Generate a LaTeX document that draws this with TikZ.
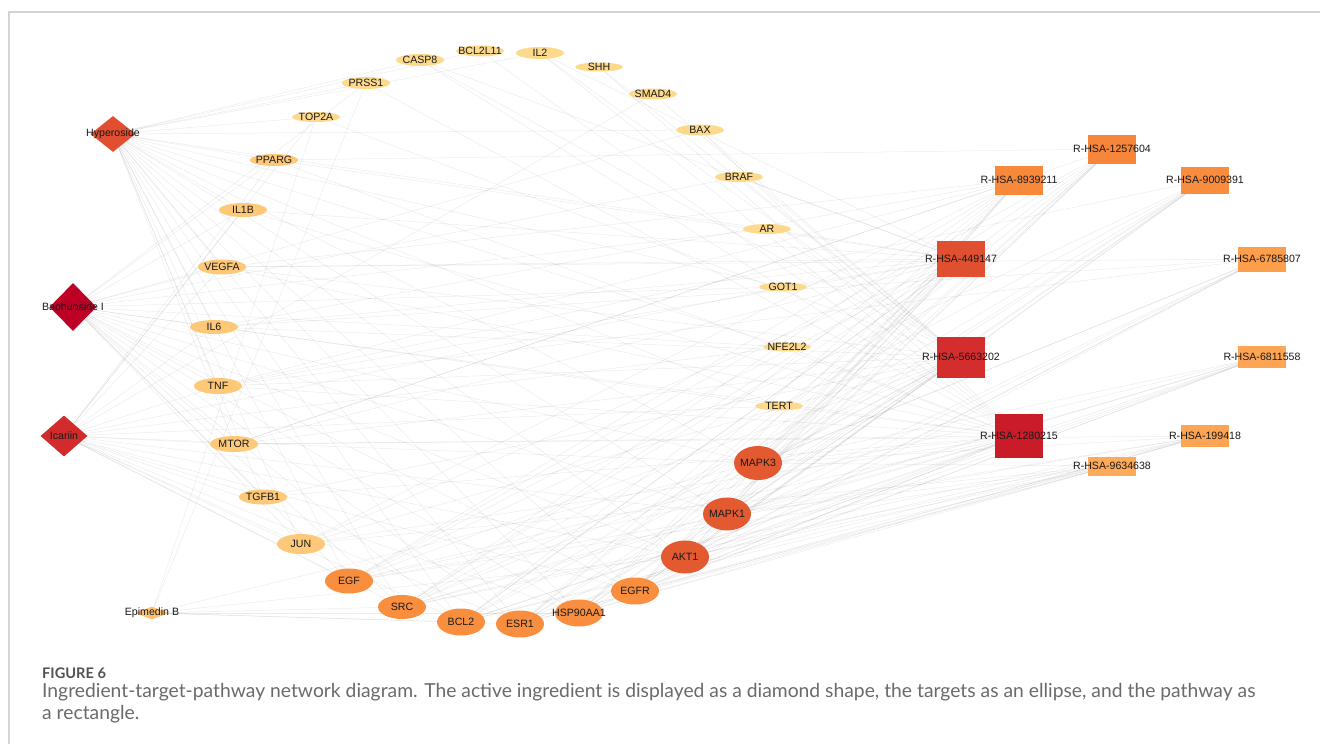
\documentclass[tikz,border=0pt]{standalone}
\usepackage{fontspec}
\setmainfont{Liberation Sans}
\newfontfamily\capfont{Lato}
\usepackage{tikz}
\usetikzlibrary{ shapes.geometric, % For diamond and ellipse nodes
                 backgrounds,      % For drawing edges behind nodes
               }
% node colours
\definecolor{cHyp}{HTML}{E14E30}
\definecolor{cBao}{HTML}{BE0027}
\definecolor{cIca}{HTML}{D12B2B}
\definecolor{cEpi}{HTML}{FDC273}
\definecolor{cPale}{HTML}{FDD98C}
\definecolor{cLight}{HTML}{FDC878}
\definecolor{cOrange}{HTML}{F98F3E}
\definecolor{cDeep}{HTML}{E35A31}
\definecolor{framegray}{HTML}{D4D4D4}
\definecolor{capgray}{HTML}{6A6A6A}

\tikzstyle{edge} = [draw=black, draw opacity=0.075, line width=0.5pt]
\tikzstyle{ingredient} = [diamond, draw=none, inner sep=0pt]
\tikzstyle{target} = [ellipse, draw=none, inner sep=0pt, minimum width=48pt]
\tikzstyle{pathway} = [rectangle, draw=none, inner sep=0pt, minimum width=48pt]
\tikzstyle{every label} = [inner sep=0pt, text=black!90, font=\fontsize{10.6}{12}\selectfont]

\begin{document}
\begin{tikzpicture}[x=1pt, y=-1pt]
  \useasboundingbox (0,0) rectangle (1320,744);
  \draw [framegray, line width=1.5pt] (1320,12) -- (9,12) -- (9,744);

  % ingredients
  \node (hyp) [ingredient, fill=cHyp, minimum width=45pt, minimum height=36pt, label=center:{Hyperoside}] at (113,134) {};
  \node (bao) [ingredient, fill=cBao, minimum width=47pt, minimum height=48pt, label=center:{Baohuoside I}] at (73,307) {};
  \node (ica) [ingredient, fill=cIca, minimum width=47pt, minimum height=41pt, label=center:{Icariin}] at (64,436) {};
  \node (epi) [ingredient, fill=cEpi, minimum width=34pt, minimum height=13pt, label=center:{Epimedin B}] at (152,613) {};

  % targets
  \node (casp8) [target, fill=cPale, minimum height=12pt, label=center:{CASP8}] at (420,60) {};
  \node (bcl2l11) [target, fill=cPale, minimum height=11pt, label=center:{BCL2L11}] at (480,51) {};
  \node (il2) [target, fill=cPale, minimum height=12pt, label=center:{IL2}] at (540,53) {};
  \node (shh) [target, fill=cPale, minimum height=9pt, label=center:{SHH}] at (599,67) {};
  \node (smad4) [target, fill=cPale, minimum height=11pt, label=center:{SMAD4}] at (653,94) {};
  \node (bax) [target, fill=cPale, minimum height=11pt, label=center:{BAX}] at (700,130) {};
  \node (braf) [target, fill=cPale, minimum height=10pt, label=center:{BRAF}] at (739,177) {};
  \node (ar) [target, fill=cPale, minimum height=10pt, label=center:{AR}] at (767,229) {};
  \node (got1) [target, fill=cPale, minimum height=9pt, label=center:{GOT1}] at (783,287) {};
  \node (nfe2l2) [target, fill=cPale, minimum height=9pt, label=center:{NFE2L2}] at (787,347) {};
  \node (tert) [target, fill=cPale, minimum height=9pt, label=center:{TERT}] at (779,406) {};
  \node (prss1) [target, fill=cPale, minimum height=12pt, label=center:{PRSS1}] at (366,83) {};
  \node (top2a) [target, fill=cPale, minimum height=10pt, label=center:{TOP2A}] at (316,117) {};
  \node (pparg) [target, fill=cLight, minimum height=12pt, label=center:{PPARG}] at (274,160) {};
  \node (il1b) [target, fill=cLight, minimum height=14pt, label=center:{IL1B}] at (243,210) {};
  \node (vegfa) [target, fill=cLight, minimum height=15pt, label=center:{VEGFA}] at (222,267) {};
  \node (il6) [target, fill=cLight, minimum height=14pt, label=center:{IL6}] at (214,327) {};
  \node (tnf) [target, fill=cLight, minimum height=16pt, label=center:{TNF}] at (218,386) {};
  \node (mtor) [target, fill=cLight, minimum height=16pt, label=center:{MTOR}] at (234,444) {};
  \node (tgfb1) [target, fill=cLight, minimum height=15pt, label=center:{TGFB1}] at (263,497) {};
  \node (jun) [target, fill=cLight, minimum height=20pt, label=center:{JUN}] at (301,544) {};
  \node (egf) [target, fill=cOrange, minimum height=25pt, label=center:{EGF}] at (349,581) {};
  \node (src) [target, fill=cOrange, minimum height=24pt, label=center:{SRC}] at (402,607) {};
  \node (bcl2) [target, fill=cOrange, minimum height=27pt, label=center:{BCL2}] at (461,622) {};
  \node (esr1) [target, fill=cOrange, minimum height=27pt, label=center:{ESR1}] at (520,624) {};
  \node (hsp) [target, fill=cOrange, minimum height=27pt, label=center:{HSP90AA1}] at (579,613) {};
  \node (egfr) [target, fill=cOrange, minimum height=27pt, label=center:{EGFR}] at (635,591) {};
  \node (akt1) [target, fill=cDeep, minimum height=33pt, label=center:{AKT1}] at (685,557) {};
  \node (mapk1) [target, fill=cDeep, minimum height=33pt, label=center:{MAPK1}] at (727,514) {};
  \node (mapk3) [target, fill=cDeep, minimum height=34pt, label=center:{MAPK3}] at (758,463) {};

  % pathways
  \node (r1257604) [pathway, fill={rgb,255:red,247;green,133;blue,58}, minimum height=29pt, label=center:{R-HSA-1257604}] at (1112,149) {};
  \node (r8939211) [pathway, fill={rgb,255:red,248;green,137;blue,59}, minimum height=29pt, label=center:{R-HSA-8939211}] at (1019,180) {};
  \node (r9009391) [pathway, fill={rgb,255:red,249;green,141;blue,61}, minimum height=27pt, label=center:{R-HSA-9009391}] at (1205,180) {};
  \node (r449147) [pathway, fill={rgb,255:red,225;green,79;blue,49}, minimum height=36pt, label=center:{R-HSA-449147}] at (961,259) {};
  \node (r6785807) [pathway, fill={rgb,255:red,252;green,158;blue,74}, minimum height=25pt, label=center:{R-HSA-6785807}] at (1262,259) {};
  \node (r5663202) [pathway, fill={rgb,255:red,211;green,45;blue,45}, minimum height=41pt, label=center:{R-HSA-5663202}] at (961,357) {};
  \node (r6811558) [pathway, fill={rgb,255:red,253;green,165;blue,83}, minimum height=22pt, label=center:{R-HSA-6811558}] at (1262,357) {};
  \node (r1280215) [pathway, fill={rgb,255:red,201;green,27;blue,40}, minimum height=44pt, label=center:{R-HSA-1280215}] at (1019,436) {};
  \node (r199418) [pathway, fill={rgb,255:red,253;green,165;blue,82}, minimum height=22pt, label=center:{R-HSA-199418}] at (1205,436) {};
  \node (r9634638) [pathway, fill={rgb,255:red,253;green,170;blue,90}, minimum height=19pt, label=center:{R-HSA-9634638}] at (1112,466) {};

  % ingredient-target and target-pathway edges
  \begin{scope}[on background layer]
    \path [edge] (hyp) edge (prss1) edge (casp8) edge (bcl2l11) edge (il2) edge (top2a) edge (bax) edge (pparg)
                 edge (il1b) edge (vegfa) edge (il6) edge (tnf) edge (mtor) edge (tgfb1) edge (jun) edge (egf)
                 edge (src) edge (bcl2) edge (esr1) edge (hsp) edge (egfr) edge (akt1) edge (mapk1) edge (mapk3)
                 edge (ar) edge (got1) edge (nfe2l2) edge (tert);
    \path [edge] (bao) edge (pparg) edge (il1b) edge (vegfa) edge (il6) edge (tnf) edge (mtor) edge (tgfb1)
                 edge (jun) edge (egf) edge (src) edge (bcl2) edge (esr1) edge (hsp) edge (egfr) edge (akt1)
                 edge (mapk1) edge (mapk3) edge (got1) edge (nfe2l2) edge (ar) edge (tert) edge (braf)
                 edge (bax) edge (prss1);
    \path [edge] (ica) edge (il1b) edge (vegfa) edge (il6) edge (tnf) edge (mtor) edge (tgfb1) edge (jun)
                 edge (egf) edge (src) edge (bcl2) edge (esr1) edge (hsp) edge (egfr) edge (akt1) edge (mapk1)
                 edge (mapk3) edge (tert) edge (nfe2l2) edge (got1) edge (pparg) edge (top2a) edge (smad4);
    \path [edge] (epi) edge (prss1) edge (top2a) edge (src) edge (bcl2) edge (esr1) edge (hsp) edge (akt1)
                 edge (mapk3);

    \path [edge] (r1280215) edge (il1b) edge (vegfa) edge (il6) edge (tnf) edge (mtor) edge (tgfb1) edge (jun)
                 edge (egf) edge (src) edge (bcl2) edge (esr1) edge (hsp) edge (egfr) edge (akt1) edge (mapk1)
                 edge (mapk3) edge (casp8) edge (bax) edge (bcl2l11) edge (il2) edge (pparg) edge (tert)
                 edge (nfe2l2) edge (prss1) edge (shh);
    \path [edge] (r5663202) edge (egf) edge (egfr) edge (src) edge (akt1) edge (mapk1) edge (mapk3) edge (hsp)
                 edge (esr1) edge (bcl2) edge (jun) edge (mtor) edge (tnf) edge (il6) edge (tgfb1) edge (braf)
                 edge (bax) edge (smad4) edge (shh) edge (il2) edge (casp8) edge (vegfa) edge (ar) edge (top2a);
    \path [edge] (r449147) edge (il1b) edge (vegfa) edge (il6) edge (tnf) edge (il2) edge (mapk1) edge (mapk3)
                 edge (akt1) edge (egfr) edge (jun) edge (src) edge (bcl2) edge (esr1) edge (pparg) edge (casp8)
                 edge (braf) edge (got1) edge (ar) edge (egf) edge (hsp) edge (mtor);
    \path [edge] (r8939211) edge (akt1) edge (mapk1) edge (mapk3) edge (egfr) edge (hsp) edge (esr1) edge (bcl2)
                 edge (src) edge (egf) edge (tnf) edge (il6) edge (vegfa) edge (mtor) edge (jun);
    \path [edge] (r1257604) edge (akt1) edge (mapk1) edge (mapk3) edge (egfr) edge (hsp) edge (egf) edge (mtor)
                 edge (src) edge (pparg) edge (esr1) edge (bcl2);
    \path [edge] (r9009391) edge (akt1) edge (mapk1) edge (mapk3) edge (egfr) edge (hsp) edge (esr1) edge (src)
                 edge (tnf) edge (egf) edge (bcl2);
    \path [edge] (r6785807) edge (akt1) edge (mapk1) edge (mapk3) edge (egfr) edge (hsp) edge (esr1) edge (vegfa)
                 edge (il6) edge (src) edge (tnf);
    \path [edge] (r6811558) edge (akt1) edge (mapk1) edge (mapk3) edge (egfr) edge (hsp) edge (src) edge (bcl2)
                 edge (egf) edge (esr1);
    \path [edge] (r199418) edge (akt1) edge (mapk1) edge (mapk3) edge (egfr) edge (hsp) edge (src) edge (esr1)
                 edge (egf) edge (bcl2) edge (mtor);
    \path [edge] (r9634638) edge (akt1) edge (mapk1) edge (mapk3) edge (egfr) edge (esr1) edge (hsp) edge (bcl2)
                 edge (egf) edge (src) edge (jun);
  \end{scope}

  % caption
  \node (figno) [anchor=base west, inner sep=0pt, text=black!68, font=\capfont\bfseries\fontsize{14.6}{16}\selectfont] at (42,678) {FIGURE 6};
  \node (cap1) [anchor=base west, inner sep=0pt, text=capgray, font=\capfont\fontsize{19.3}{21}\selectfont] at (42,697)
    {Ingredient-target-pathway network diagram. The active ingredient is displayed as a diamond shape, the targets as an ellipse, and the pathway as};
  \node (cap2) [anchor=base west, inner sep=0pt, text=capgray, font=\capfont\fontsize{19.3}{21}\selectfont] at (42,719) {a rectangle.};
\end{tikzpicture}
\end{document}
